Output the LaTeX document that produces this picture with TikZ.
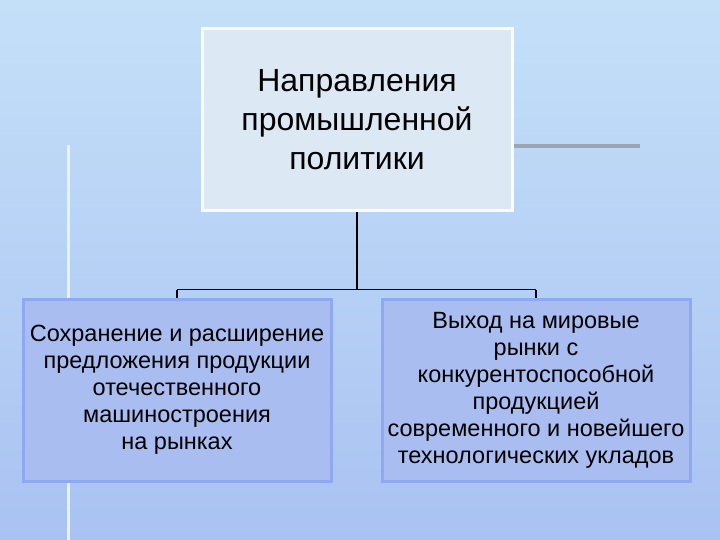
\documentclass[tikz,border=0pt]{standalone}
\usepackage{fontspec}
\setmainfont{Liberation Sans}
\begin{document}
\begin{tikzpicture}[x=1pt,y=-1pt,
  lowbox/.style={line width=3pt, fill=lbfill, inner sep=0pt, align=center, font=\fontsize{23.5}{27}\selectfont},
  conn/.style={line width=1.3pt, black}]
\definecolor{bgtop}{HTML}{C4E0F8}
\definecolor{bgbot}{HTML}{A9C2F2}
\definecolor{lbfill}{HTML}{A9BDF1}
\definecolor{lbdraw}{HTML}{8EA9F2}
\definecolor{topfill}{HTML}{DCE9F5}
\shade[top color=bgtop, bottom color=bgbot] (0,0) rectangle (720,540);
\useasboundingbox (0,0) rectangle (720,540);
\draw[line width=3pt, white!60!bgtop] (68,145) -- (68,540);
\draw[line width=4pt, gray!60!bgtop] (512,146) -- (640,146);
\node[draw=white!85!topfill, line width=3pt, fill=topfill, minimum width=310pt, minimum height=182pt, align=center, font=\fontsize{32}{39}\selectfont] (top) at (357,120) {Направления\\промышленной\\политики};
\node[lowbox, draw=lbdraw, minimum width=308pt, minimum height=182pt] (l) at (177,390) {Сохранение и расширение\\предложения продукции\\отечественного\\машиностроения\\на рынках};
\node[lowbox, draw=lbdraw, minimum width=308pt, minimum height=182pt] (r) at (536,390) {Выход на мировые\\рынки с\\конкурентоспособной\\продукцией\\современного и новейшего\\технологических укладов};
\coordinate (j) at (357,290);
\draw[conn] (top.south) -- (j);
\draw[conn] (l.north) ++(0,-8) coordinate (la) -- (l.north);
\draw[conn] (r.north) ++(0,-8) coordinate (ra) -- (r.north);
\draw[conn] (la) -- (ra);
\end{tikzpicture}
\end{document}
